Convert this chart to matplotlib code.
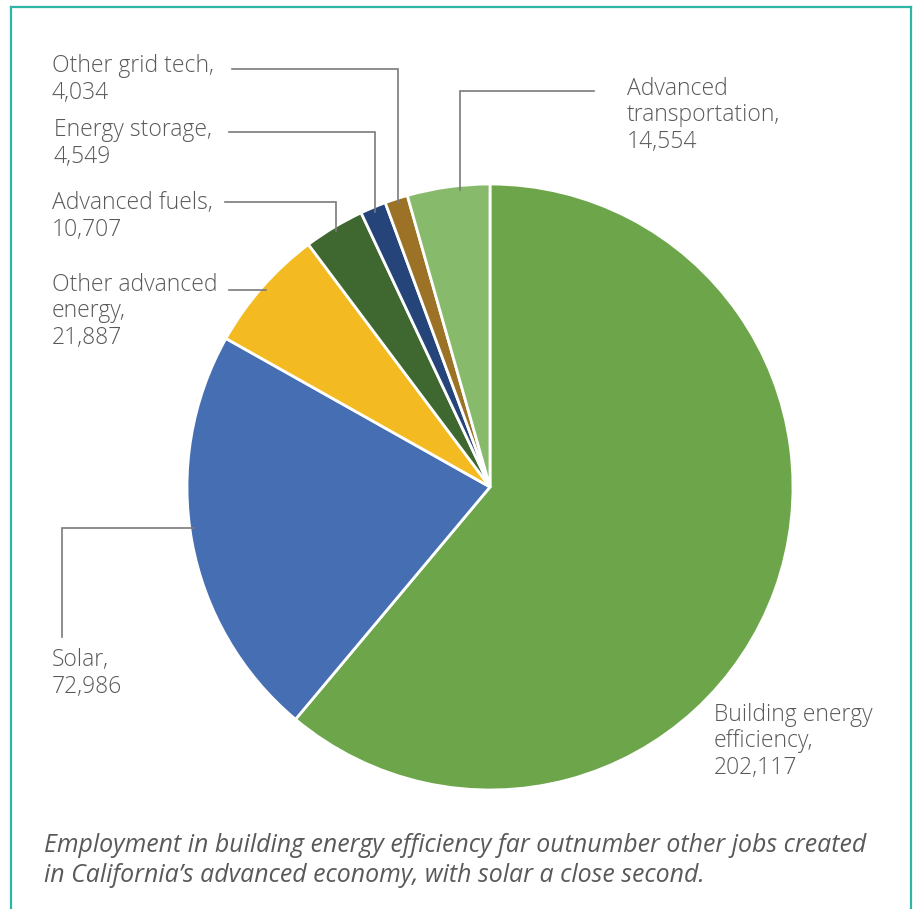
import matplotlib.pyplot as plt
from matplotlib.lines import Line2D
import numpy as np

# Daten (Reihenfolge: im Uhrzeigersinn ab 12 Uhr)
categories = ["Building energy\nefficiency", "Solar", "Other advanced\nenergy",
              "Advanced fuels", "Energy storage", "Other grid tech",
              "Advanced\ntransportation"]
jobs = [202117, 72986, 21887, 10707, 4549, 4034, 14554]
colors = ["#6DA64A", "#456EB3", "#F3BA21", "#3F6830", "#254479", "#9B7226", "#88BA6C"]
caption = ("Employment in building energy efficiency far outnumber other jobs created\n"
           "in California\u2019s advanced economy, with solar a close second.")

W, H = 917, 909
TXT = "#595959"
LINE = "#7a7a7a"
LSP = 26  # Zeilenabstand der Beschriftungen in Pixeln

fig = plt.figure(figsize=(W / 100, H / 100), dpi=100)
ax = fig.add_axes([0, 0, 1, 1])

cx, cy, R = 490, H - 487, 303
wedges, _ = ax.pie(jobs, colors=colors, startangle=90, counterclock=False,
                   center=(cx, cy), radius=R,
                   wedgeprops=dict(edgecolor="white", linewidth=2))
ax.set_xlim(0, W)
ax.set_ylim(0, H)
ax.set_aspect("equal")
ax.axis("off")

# Beschriftungen: (x links, Grundlinie erste Zeile in Bildkoordinaten)
label_pos = [(714, 722), (52, 667), (52, 292), (52, 210), (54, 137), (52, 73), (627, 96)]
# Führungslinien: Art, Startpunkt, Lage im Segment
leaders = [None,
           ("vh", (62, 637), 0.47),
           ("h", (229, 288), 0.5),
           ("hv", (225, 202), 0.5),
           ("hv", (229, 132), 0.5),
           ("hv", (232, 69), 0.5),
           ("hv", (594, 91), 0.37)]

for w, name, val, (lx, ly), ld in zip(wedges, categories, jobs, label_pos, leaders):
    txt = f"{name},\n{val:,}"
    n = txt.count("\n")
    # va="baseline" richtet die letzte Zeile aus
    ax.text(lx, H - (ly + n * LSP), txt, ha="left", va="baseline",
            fontsize=16.5, color=TXT, family="Open Sans", fontweight="light",
            linespacing=1.15)
    if ld is None:
        continue
    kind, (sx, sy), frac = ld
    ang = np.deg2rad(w.theta1 + frac * (w.theta2 - w.theta1))
    r = 0.985 * R
    px, py = cx + r * np.cos(ang), cy + r * np.sin(ang)
    sy = H - sy
    if kind == "hv":
        xs, ys = [sx, px, px], [sy, sy, py]
    elif kind == "vh":
        xs, ys = [sx, sx, px], [sy, py, py]
    else:
        xs, ys = [sx, px], [py, py]
    ax.plot(xs, ys, color=LINE, lw=1.2, solid_joinstyle="miter")

ax.text(44, H - 882, caption, ha="left", va="baseline", fontsize=17.9,
        style="italic", color=TXT, family="Open Sans", linespacing=1.26)

# Rahmen
teal = "#2FB5A4"
fig.add_artist(Line2D([11 / W, 11 / W], [0, 1 - 7 / H], color=teal, lw=1.6))
fig.add_artist(Line2D([911 / W, 911 / W], [0, 1 - 7 / H], color=teal, lw=1.6))
fig.add_artist(Line2D([11 / W, 911 / W], [1 - 7 / H, 1 - 7 / H], color=teal, lw=1.6))

fig.savefig("out.png", dpi=100, facecolor="white")
